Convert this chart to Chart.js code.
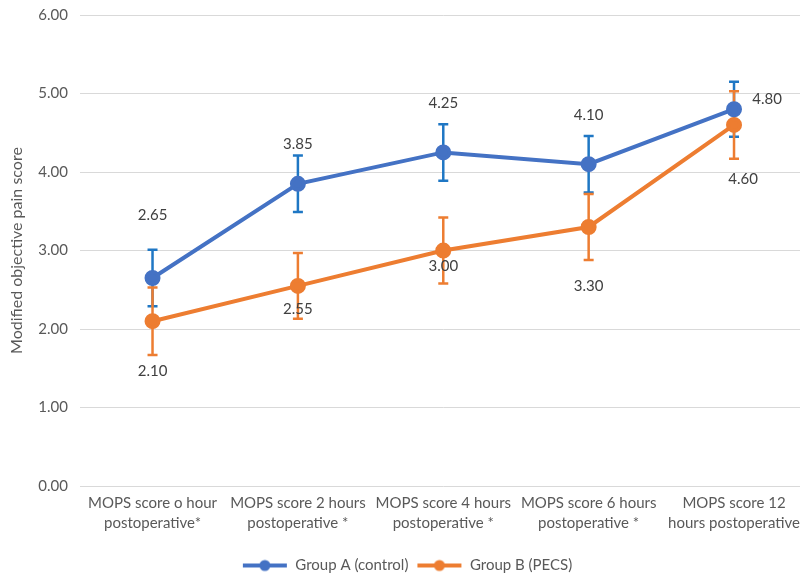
<!DOCTYPE html>
<html>
<head>
<meta charset="utf-8">
<script src="https://cdn.jsdelivr.net/npm/chart.js@4.4.1/dist/chart.umd.min.js"></script>
<style>
  html, body { margin: 0; padding: 0; background: #fff; overflow: hidden; }
  #wrap { width: 807px; height: 581px; margin-top: -6px; }
</style>
</head>
<body>
<div id="wrap"><canvas id="grafico"></canvas></div>
<script>
// dados
const categorias = [
    ['MOPS score o hour', 'postoperative*'],
    ['MOPS score 2 hours', 'postoperative *'],
    ['MOPS score 4 hours', 'postoperative *'],
    ['MOPS score 6 hours', 'postoperative *'],
    ['MOPS score 12', 'hours postoperative']
]
const grupoA = [2.65, 3.85, 4.25, 4.10, 4.80]
const erroA = [0.36, 0.36, 0.36, 0.36, 0.35]
const grupoB = [2.10, 2.55, 3.00, 3.30, 4.60]
const erroB = [0.43, 0.42, 0.42, 0.42, 0.43]
const ticksY = [0, 1, 2, 3, 4, 5, 6]

// deslocamento dos rotulos (px), como no Excel
const deslocA = [[0, -63], [0, -40], [0, -49], [0, -49], [33, -10]]
const deslocB = [[0, 50], [0, 23], [0, 16], [0, 59], [9, 54]]

const fonte = "Lato, 'Open Sans', sans-serif"

function marcadorLegenda(cor) {
    const c = document.createElement('canvas')
    c.width = 46
    c.height = 14
    const g = c.getContext('2d')
    g.strokeStyle = cor
    g.lineWidth = 4
    g.beginPath()
    g.moveTo(1, 7)
    g.lineTo(45, 7)
    g.stroke()
    g.fillStyle = cor
    g.beginPath()
    g.arc(23, 7, 5.5, 0, Math.PI * 2)
    g.fill()
    return c
}

const barrasErro = {
    id: 'barrasErro',
    beforeDatasetsDraw(chart) {
        const ctx = chart.ctx
        const y = chart.scales.y
        const listas = [
            { erros: erroA, cor: '#1F77C4' },
            { erros: erroB, cor: '#ED7D31' }
        ]
        listas.forEach((l, d) => {
            const meta = chart.getDatasetMeta(d)
            const valores = chart.data.datasets[d].data
            ctx.save()
            ctx.strokeStyle = l.cor
            ctx.lineWidth = 2.5
            meta.data.forEach((p, i) => {
                const topo = y.getPixelForValue(valores[i] + l.erros[i])
                const base = y.getPixelForValue(valores[i] - l.erros[i])
                ctx.beginPath()
                ctx.moveTo(p.x, topo)
                ctx.lineTo(p.x, base)
                ctx.moveTo(p.x - 5, topo)
                ctx.lineTo(p.x + 5, topo)
                ctx.moveTo(p.x - 5, base)
                ctx.lineTo(p.x + 5, base)
                ctx.stroke()
            })
            ctx.restore()
        })
    },
    afterDatasetsDraw(chart) {
        const ctx = chart.ctx
        const desloc = [deslocA, deslocB]
        ctx.save()
        ctx.font = '15px ' + fonte
        ctx.fillStyle = '#404040'
        ctx.textAlign = 'center'
        ctx.textBaseline = 'middle'
        chart.data.datasets.forEach((ds, d) => {
            chart.getDatasetMeta(d).data.forEach((p, i) => {
                ctx.fillText(ds.data[i].toFixed(2), p.x + desloc[d][i][0], p.y + desloc[d][i][1])
            })
        })
        ctx.restore()
    }
}

new Chart(document.getElementById('grafico'), {
    type: 'line',
    data: {
        labels: categorias,
        datasets: [
            {
                label: 'Group A (control)',
                data: grupoA,
                borderColor: '#4472C4',
                backgroundColor: '#4472C4',
                borderWidth: 4,
                pointRadius: 6,
                pointStyle: 'circle',
                tension: 0
            },
            {
                label: 'Group B (PECS)',
                data: grupoB,
                borderColor: '#ED7D31',
                backgroundColor: '#ED7D31',
                borderWidth: 4,
                pointRadius: 6,
                pointStyle: 'circle',
                tension: 0
            }
        ]
    },
    options: {
        responsive: true,
        maintainAspectRatio: false,
        animation: false,
        layout: { autoPadding: false, padding: { top: 0, right: 0, left: 7, bottom: -8 } },
        scales: {
            x: {
                offset: true,
                grid: { display: false, drawTicks: false },
                border: { display: false },
                afterFit(scale) {
                    scale.height += 10
                },
                ticks: {
                    color: '#595959',
                    font: { family: fonte, size: 15, lineHeight: 1.33 },
                    maxRotation: 0,
                    autoSkip: false,
                    padding: 7
                }
            },
            y: {
                min: 0,
                max: 6,
                afterBuildTicks(axis) {
                    axis.ticks = ticksY.map(v => ({ value: v }))
                },
                grid: { color: '#D9D9D9', lineWidth: 1, drawTicks: false },
                border: { display: false },
                ticks: {
                    color: '#595959',
                    font: { family: fonte, size: 15 },
                    padding: 12,
                    callback: v => v.toFixed(2)
                },
                title: {
                    display: true,
                    text: 'Modified objective pain score',
                    color: '#595959',
                    font: { family: fonte, size: 16 },
                    padding: 0
                }
            }
        },
        plugins: {
            legend: {
                position: 'bottom',
                labels: {
                    color: '#595959',
                    font: { family: fonte, size: 15 },
                    usePointStyle: true,
                    pointStyleWidth: 46,
                    padding: 8,
                    generateLabels(chart) {
                        const itens = Chart.defaults.plugins.legend.labels.generateLabels(chart)
                        itens.forEach(it => {
                            it.pointStyle = marcadorLegenda(chart.data.datasets[it.datasetIndex].borderColor)
                        })
                        return itens
                    }
                }
            },
            tooltip: { enabled: false }
        }
    },
    plugins: [barrasErro]
});
</script>
</body>
</html>
